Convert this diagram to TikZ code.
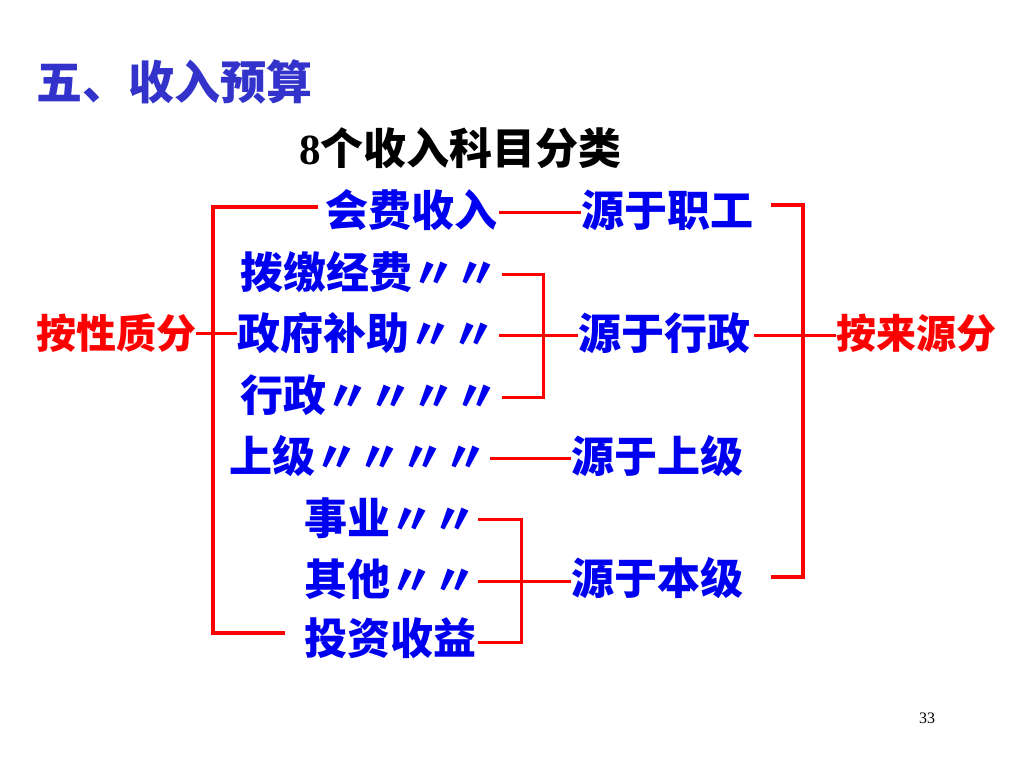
\documentclass[tikz,border=0pt]{standalone}
\usepackage{fontspec}
\setmainfont{Liberation Serif}
\newfontfamily\cjk{Noto Sans CJK SC}
\definecolor{tblue}{RGB}{51,51,204}
\definecolor{iblue}{RGB}{0,0,240}
\definecolor{lred}{RGB}{255,0,0}
\begin{document}
\begin{tikzpicture}[x=1pt,y=-1pt,
  item/.style={anchor=west,inner sep=0pt,text=iblue,font=\cjk\bfseries\fontsize{43}{50}\selectfont},
  redlbl/.style={anchor=west,inner sep=0pt,text=lred,font=\cjk\bfseries\fontsize{40}{48}\selectfont},
  link/.style={draw=lred,line width=3pt},
  brk/.style={draw=lred,line width=3.5pt}]
\useasboundingbox[fill=white] (0,0) rectangle (1024,768);
% titles
\node[anchor=west,inner sep=0pt,text=tblue,font=\cjk\bfseries\fontsize{46}{54}\selectfont] (title) at (36,82) {五、收入预算};
\node[anchor=west,inner sep=0pt,text=black,font=\bfseries\fontsize{43}{50}\selectfont] (sub) at (299,148) {8{\cjk\bfseries 个收入科目分类}};
% items by nature
\node[item] (hf) at (325,210) {会费收入};
\node[item] (bj) at (240,272) {拨缴经费〃〃};
\node[item] (zf) at (237,333) {政府补助〃〃};
\node[item] (xz) at (240,395) {行政〃〃〃〃};
\node[item] (sj) at (229,456) {上级〃〃〃〃};
\node[item] (sy) at (304,518) {事业〃〃};
\node[item] (qt) at (304,579) {其他〃〃};
\node[item] (tz) at (304,638) {投资收益};
% items by source
\node[item] (lzg) at (581,210) {源于职工};
\node[item] (lxz) at (578,333) {源于行政};
\node[item] (lsj) at (571,456) {源于上级};
\node[item] (lbj) at (571,578) {源于本级};
% side labels
\node[redlbl] (xzf) at (36,333) {按性质分};
\node[redlbl] (lyf) at (836,333) {按来源分};
\node[anchor=center,inner sep=0pt,font=\fontsize{16}{18}\selectfont] (num) at (927,718) {33};
% coordinates
\coordinate (lt) at (213,207);
\coordinate (lb) at (213,633);
\coordinate (v1) at (543,333);
\coordinate (v2) at (521,579);
\coordinate (rt1) at (771,205);
\coordinate (rt) at (803,205);
\coordinate (rb) at (803,577);
\coordinate (rb1) at (771,577);
% left bracket
\draw[brk] ([xshift=-7pt,yshift=3pt]hf.west) -- (lt) -- (lb) -- ([xshift=-19pt,yshift=5pt]tz.west);
\draw[link] (xzf.east) -- (zf.west);
% connectors to sources
\draw[link] ([xshift=2pt,yshift=-2pt]hf.east) -- ([yshift=-2pt]hf.east -| lzg.west);
\draw[link] ([xshift=4pt,yshift=-2pt]bj.east) -- ([yshift=-2pt]bj.east -| v1) -- ([yshift=-2pt]xz.east -| v1) -- ([xshift=4pt,yshift=-2pt]xz.east);
\draw[link] ([xshift=4pt,yshift=-2pt]zf.east) -- ([yshift=-2pt]lxz.west);
\draw[link] ([xshift=3pt,yshift=-2pt]sj.east) -- ([yshift=-2pt]lsj.west);
\draw[link] ([xshift=2pt,yshift=-1pt]sy.east) -- ([yshift=-1pt]sy.east -| v2) -- ([yshift=-4pt]tz.east -| v2) -- ([xshift=2pt,yshift=-4pt]tz.east);
\draw[link] ([xshift=2pt,yshift=-2pt]qt.east) -- ([yshift=-2pt]qt.east -| lbj.west);
% right bracket
\draw[brk] (rt1) -- (rt) -- (rb) -- (rb1);
\draw[link] ([xshift=4pt,yshift=-2pt]lxz.east) -- ([yshift=-2pt]lyf.west);
\end{tikzpicture}
\end{document}
